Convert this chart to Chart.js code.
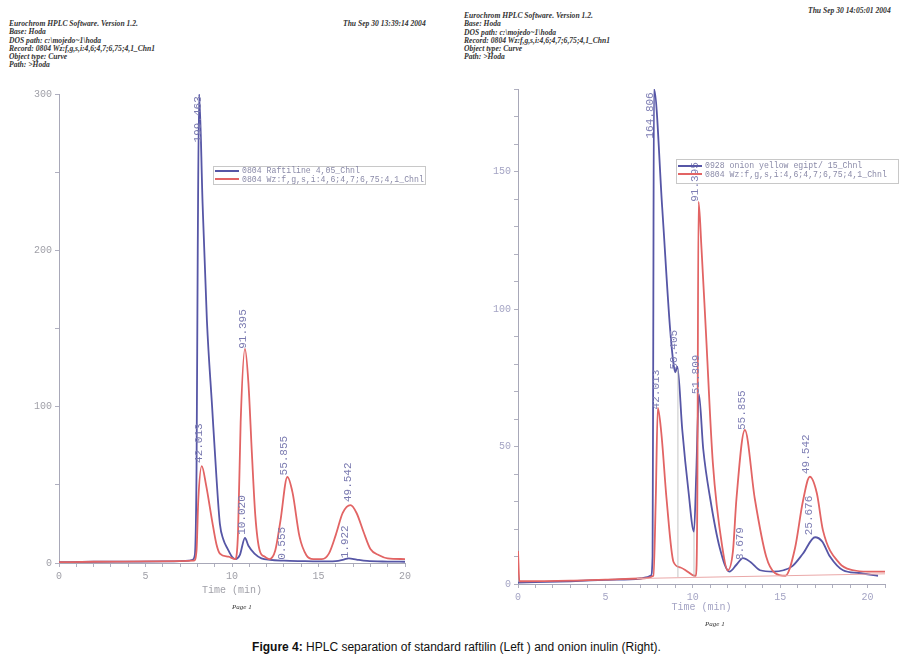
<!DOCTYPE html>
<html>
<head>
<meta charset="utf-8">
<script src="https://cdn.jsdelivr.net/npm/chart.js"></script>
<style>
  body { margin: 0; width: 913px; height: 665px; position: relative; background: #fff; overflow: hidden; }
  .hdr { position: absolute; font: italic bold 7.6px "Liberation Serif", "DejaVu Serif", serif; color: #333; line-height: 8.3px; white-space: pre; }
  .date { position: absolute; font: italic bold 7.6px "Liberation Serif", serif; color: #333; white-space: pre; }
  .page { position: absolute; font: italic 7px "Liberation Serif", serif; color: #333; }
  .legend { position: absolute; border: 1px solid #c8c8c8; background: transparent; font: 8.2px "Liberation Mono", monospace; color: #8a8aa8; }
  .legend div { position: relative; height: 8.5px; line-height: 8.5px; white-space: pre; }
  .legend span.sw { display: inline-block; width: 24px; height: 2px; vertical-align: middle; margin: 0 3px 0 1px; }
  #cap { position: absolute; left: 0; width: 913px; top: 640px; text-align: center; font: 12px "Liberation Sans", Arial, sans-serif; color: #111; }
  canvas { position: absolute; }
</style>
</head>
<body>
<div class="hdr" style="left:9px;top:20px">Eurochrom HPLC Software. Version 1.2.
Base: Hoda
DOS path: c:\mojedo~1\hoda
Record: 0804 Wz:f,g,s,i:4,6;4,7;6,75;4,1_Chn1
Object type: Curve
Path: >Hoda</div>
<div class="date" style="left:343px;top:19px">Thu Sep 30 13:39:14 2004</div>

<div class="hdr" style="left:464px;top:12px">Eurochrom HPLC Software. Version 1.2.
Base: Hoda
DOS path: c:\mojedo~1\hoda
Record: 0804 Wz:f,g,s,i:4,6;4,7;6,75;4,1_Chn1
Object type: Curve
Path: >Hoda</div>
<div class="date" style="left:808px;top:6px">Thu Sep 30 14:05:01 2004</div>

<canvas id="leftChart" width="440" height="535" style="left:0;top:85px"></canvas>
<canvas id="rightChart" width="442" height="555" style="left:458px;top:80px"></canvas>

<div class="legend" style="left:213px;top:166px;width:211px;height:17px">
  <div><span class="sw" style="background:#5656a6"></span>0804 Raftiline 4,05_Chnl</div>
  <div><span class="sw" style="background:#e26464"></span>0804 Wz:f,g,s,i:4,6;4,7;6,75;4,1_Chnl</div>
</div>
<div class="legend" style="left:676px;top:159px;width:221px;height:21px;padding-top:2px">
  <div><span class="sw" style="background:#5656a6"></span>0928 onion yellow egipt/ 15_Chnl</div>
  <div><span class="sw" style="background:#e26464"></span>0804 Wz:f,g,s,i:4,6;4,7;6,75;4,1_Chnl</div>
</div>

<div class="page" style="left:232px;top:603px">Page 1</div>
<div class="page" style="left:705px;top:620px">Page 1</div>
<div id="cap"><b>Figure 4:</b> HPLC separation of standard raftilin (Left ) and onion inulin (Right).</div>

<script>
// left: standard raftilin
const raftTime = [0, 2, 4, 6, 7, 7.5, 7.7, 7.85, 7.95, 8.02, 8.1, 8.3, 8.55, 8.85, 9.1, 9.3, 9.5, 9.75, 10.0, 10.2, 10.45, 10.75, 10.95, 11.3, 11.7, 12.2, 13, 14, 15, 16, 16.4, 16.75, 17.2, 17.8, 19, 20];
const raftValue = [0.5, 0.8, 0.9, 1, 1.2, 1.5, 2, 5, 60, 200, 300, 230, 155, 100, 55, 25, 15, 9, 4, 2.5, 5, 16, 11, 6, 3, 2, 1.5, 1.2, 1, 1.2, 2, 3, 2.2, 1.3, 0.9, 0.8];
const stdTimeL = [0, 2, 5, 7, 7.8, 7.95, 8.05, 8.25, 8.5, 8.85, 9.1, 9.3, 9.8, 10.2, 10.35, 10.5, 10.75, 10.95, 11.15, 11.35, 11.6, 11.9, 12.15, 12.5, 12.8, 13.2, 13.5, 13.9, 14.3, 14.7, 15.2, 15.6, 16.0, 16.4, 16.85, 17.2, 17.6, 18.0, 18.5, 19.0, 20];
const stdValueL = [0.5, 0.8, 1, 1.2, 1.5, 8, 40, 62, 50, 27, 12, 6, 4, 2.5, 20, 90, 137, 115, 70, 30, 8, 4, 2.5, 8, 27, 55, 45, 17, 5, 2.5, 2.5, 6, 18, 32, 37, 32, 20, 9, 5, 3, 2.5];
const leftLabels = ["199.463", "42.013", "10.020", "91.395", "0.555", "55.855", "1.922", "49.542"];
const leftLabelTime = [8.03, 8.1, 10.6, 10.63, 12.9, 13.0, 16.55, 16.7];
const leftLabelValue = [269, 64, 18, 137, 2, 56, 3, 39];

// right: onion inulin
const onionTime = [0, 3, 5, 7, 7.4, 7.6, 7.7, 7.74, 7.78, 8.25, 8.7, 8.9, 9.0, 9.12, 9.4, 9.75, 10.07, 10.2, 10.35, 10.6, 11.0, 11.55, 12.1, 12.5, 12.87, 13.3, 13.85, 14.6, 15.2, 15.7, 16.3, 17.0, 17.4, 17.85, 18.6, 19.5, 20.6];
const onionValue = [0.5, 1, 1.5, 2, 2.5, 3, 10, 90, 180, 137, 93, 80, 77, 79, 56, 34, 19, 40, 69, 49, 31, 13, 4.5, 7, 9.4, 8, 5, 4.5, 5, 6.5, 11, 17, 15.5, 10, 5, 4, 3];
const stdTimeR = [0, 0.08, 3, 5, 7, 7.75, 7.88, 8.0, 8.2, 8.5, 8.9, 9.3, 9.7, 10.1, 10.18, 10.26, 10.33, 10.5, 10.75, 11.15, 11.7, 12.0, 12.3, 12.5, 12.98, 13.55, 14.2, 14.7, 15.3, 15.85, 16.3, 16.7, 17.1, 17.45, 18.4, 19.2, 20, 21];
const stdValueR = [12, 1, 1.2, 1.6, 2, 3, 30, 64, 55, 31, 8, 6, 4.5, 3, 3, 30, 139, 122, 92, 44, 13, 5, 12, 31, 56, 31, 10, 4, 3, 13, 30, 39, 33, 19.5, 7.5, 5, 4.5, 4.5];
const baseTimeR = [6.8, 21];
const baseValueR = [2, 3.7];
const dropTimeR = [9.15, 10.07];
const dropTopR = [78, 19];
const rightLabels = ["164.806", "91.395", "50.405", "42.013", "51.809", "55.855", "8.679", "49.542", "25.676"];
const rightLabelTime = [7.55, 10.13, 8.92, 7.9, 10.18, 12.8, 12.7, 16.5, 16.65];
const rightLabelValue = [162, 139, 78, 63.5, 69, 56, 8.7, 40, 17.7];

const BLUE = '#5656a6';
const RED = '#e26464';

function pts(t, v) { return t.map((x, i) => ({ x: x, y: v[i] })); }

function peakLabelPlugin(texts, times, values, color) {
    return {
        id: 'peakLabels',
        afterDatasetsDraw(chart) {
            const ctx = chart.ctx;
            const xs = chart.scales.x, ys = chart.scales.y;
            ctx.save();
            ctx.font = '11px "Liberation Mono", monospace';
            ctx.fillStyle = color;
            ctx.textAlign = 'left';
            ctx.textBaseline = 'middle';
            texts.forEach((txt, i) => {
                ctx.save();
                ctx.translate(xs.getPixelForValue(times[i]), ys.getPixelForValue(values[i]));
                ctx.rotate(-Math.PI / 2);
                ctx.fillText(txt, 0, 0);
                ctx.restore();
            });
            ctx.restore();
        }
    };
}

function lineSet(data, color, width) {
    return {
        data: data,
        borderColor: color,
        borderWidth: width,
        pointRadius: 0,
        fill: false,
        cubicInterpolationMode: 'monotone'
    };
}

function makeOptions(o) {
    const tickFont = { family: '"Liberation Mono", monospace', size: 10 };
    return {
        responsive: false,
        animation: false,
        layout: { padding: { top: o.padTop, right: o.padRight, left: 0, bottom: 0 } },
        plugins: { legend: { display: false }, tooltip: { enabled: false } },
        scales: {
            x: {
                type: 'linear', min: 0, max: o.xMax,
                afterFit: (s) => { s.height = o.xHeight; },
                border: { display: true, color: '#a8a8b8' },
                grid: { drawOnChartArea: false, drawTicks: true, tickLength: 4, color: '#b0b0c0' },
                ticks: {
                    stepSize: 1, autoSkip: false, maxRotation: 0, color: o.tickColor, font: tickFont,
                    callback: (v) => (v % 5 === 0 ? String(v) : '')
                },
                title: { display: true, text: 'Time (min)', color: o.tickColor, font: tickFont, padding: { top: 0, bottom: o.titlePad } }
            },
            y: {
                min: 0, max: o.yMax,
                afterFit: (s) => { s.width = o.yWidth; },
                border: { display: true, color: '#a8a8b8' },
                grid: { drawOnChartArea: false, drawTicks: true, tickLength: 4, color: '#b0b0c0' },
                ticks: {
                    stepSize: o.yStep, autoSkip: false, color: o.tickColor, font: tickFont, padding: 3,
                    callback: (v) => (v % o.yLabelEvery === 0 ? String(v) : '')
                }
            }
        }
    };
}

new Chart(document.getElementById('leftChart'), {
    type: 'line',
    data: {
        datasets: [
            lineSet(pts(stdTimeL, stdValueL), RED, 1.8),
            lineSet(pts(raftTime, raftValue), BLUE, 1.8)
        ]
    },
    options: makeOptions({ padTop: 6, padRight: 35, xMax: 20, xHeight: 57, yWidth: 59, yMax: 300, yStep: 50, yLabelEvery: 100, titlePad: 24, tickColor: '#a0a0a8' }),
    plugins: [peakLabelPlugin(leftLabels, leftLabelTime, leftLabelValue, '#7a7ab0')]
});

const dropSets = dropTimeR.map((t, i) => ({
    data: [{ x: t, y: 2.5 }, { x: t, y: dropTopR[i] }],
    borderColor: '#b8b8b8', borderWidth: 0.8, pointRadius: 0, fill: false
}));

new Chart(document.getElementById('rightChart'), {
    type: 'line',
    data: {
        datasets: [
            { data: pts(baseTimeR, baseValueR), borderColor: '#eaa8a8', borderWidth: 1, pointRadius: 0, fill: false },
            ...dropSets,
            lineSet(pts(stdTimeR, stdValueR), RED, 1.8),
            lineSet(pts(onionTime, onionValue), BLUE, 1.8)
        ]
    },
    options: makeOptions({ padTop: 5, padRight: 15, xMax: 21, xHeight: 51, yWidth: 60, yMax: 180, yStep: 10, yLabelEvery: 50, titlePad: 22, tickColor: '#a4a4c4' }),
    plugins: [peakLabelPlugin(rightLabels, rightLabelTime, rightLabelValue, '#7e7eb4')]
});
</script>
</body>
</html>
